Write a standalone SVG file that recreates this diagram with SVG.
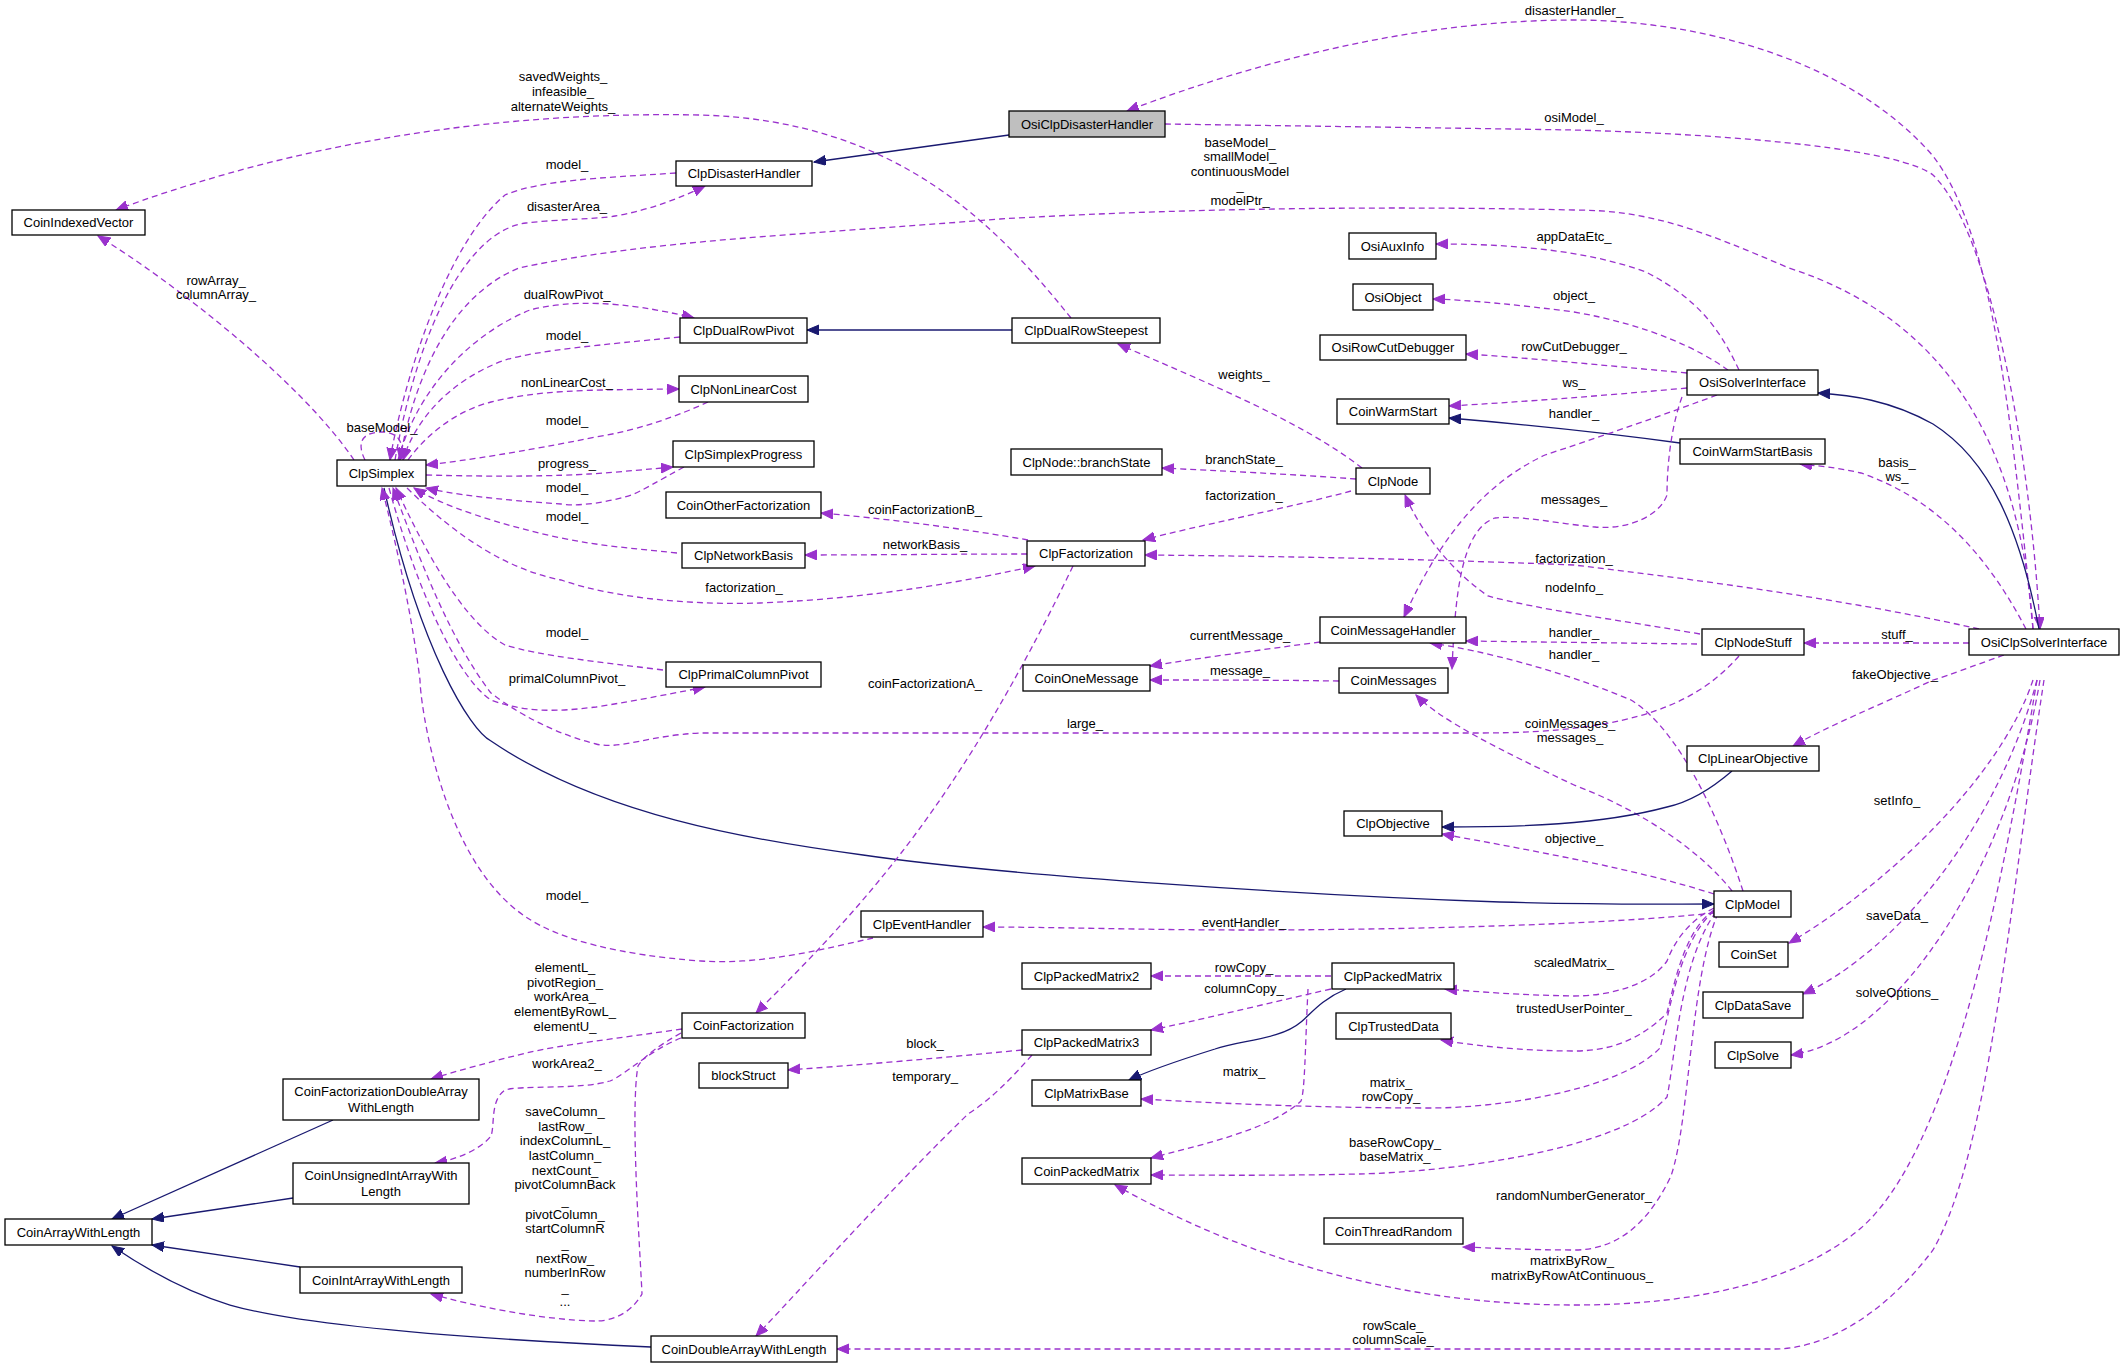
<svg xmlns="http://www.w3.org/2000/svg" width="2125" height="1368" viewBox="0 0 2125 1368">
<defs>
<style>
.n rect{fill:#fff;stroke:#000;stroke-width:1.3}
.n text,.l{font-family:"Liberation Sans",Arial,sans-serif;font-size:13px;fill:#000}
.n text{text-anchor:middle}
.l{text-anchor:middle}
.d{fill:none;stroke:#9a32cd;stroke-width:1.3;stroke-dasharray:6,4;marker-end:url(#pa)}
.i{fill:none;stroke:#191970;stroke-width:1.3;marker-end:url(#ia)}
</style>
<marker id="pa" markerUnits="userSpaceOnUse" markerWidth="14" markerHeight="12" refX="12" refY="5" orient="auto"><path d="M0,0L12,5L0,10z" fill="#9a32cd" stroke="#9a32cd"/></marker>
<marker id="ia" markerUnits="userSpaceOnUse" markerWidth="14" markerHeight="12" refX="12" refY="5" orient="auto"><path d="M0,0L12,5L0,10z" fill="#191970" stroke="#191970"/></marker>
</defs>
<rect width="2125" height="1368" fill="#fff"/>
<g id="edges">
<path class="i" d="M1009,135L814,162"/>
<path class="d" d="M2033,629C2010,400 1990,230 1933,156C1850,60 1700,20 1574,20C1420,20 1260,60 1127,111"/>
<path class="d" d="M1165,124C1300,126 1450,128 1574,130C1750,135 1900,150 1933,175C1990,230 2030,450 2040,629"/>
<path class="d" d="M1071,318C1000,230 900,120 700,115C450,110 250,160 116,210"/>
<path class="d" d="M676,173C600,178 540,180 505,195C440,250 400,400 390,460"/>
<path class="d" d="M395,460C420,320 470,230 526,223C560,219 600,219 615,216C650,210 680,198 705,186"/>
<path class="d" d="M2033,629C2020,450 1950,320 1789,268C1700,230 1650,210 1574,210C1350,205 1150,210 1000,219C800,235 650,240 519,268C440,300 410,400 400,460"/>
<path class="d" d="M398,460C420,380 480,330 530,310C570,300 620,300 694,318"/>
<path class="d" d="M680,337C600,345 540,350 505,360C450,380 415,420 403,460"/>
<path class="i" d="M1012,330L807,330"/>
<path class="d" d="M408,460C430,430 460,410 491,402C540,390 580,390 679,389"/>
<path class="d" d="M708,402C680,415 640,430 596,437C520,452 470,460 426,465"/>
<path class="d" d="M426,475C500,477 560,476 589,474C620,472 650,469 673,467"/>
<path class="d" d="M684,467C660,480 640,492 631,495C600,505 570,506 561,504C500,500 450,494 426,488"/>
<path class="d" d="M677,553C630,548 600,546 561,538C500,525 440,505 414,488"/>
<path class="d" d="M1028,540C960,528 880,518 821,513"/>
<path class="d" d="M1027,554C960,554 870,555 805,555"/>
<path class="d" d="M407,488C460,540 510,570 561,580C620,600 700,605 760,603C880,598 970,580 1035,566"/>
<path class="d" d="M663,670C600,662 540,656 505,645C460,620 420,540 396,488"/>
<path class="d" d="M389,488C420,600 460,680 491,700C530,715 570,710 596,707C640,700 680,692 705,687"/>
<path class="i" d="M384,488C420,650 470,730 491,741C600,815 750,840 863,855C1000,875 1300,895 1500,902C1600,905 1660,904 1714,904"/>
<path class="d" d="M873,938C820,950 760,965 701,961C620,955 560,940 526,917C440,860 420,700 420,680C410,600 390,520 382,488"/>
<path class="d" d="M1739,656C1700,700 1640,733 1480,733L1100,733C860,733 750,733 701,733C650,735 620,750 596,744C540,730 500,700 491,693C450,640 420,560 393,488"/>
<path class="d" d="M1739,370C1720,330 1700,300 1646,272C1580,248 1500,244 1436,244"/>
<path class="d" d="M1728,370C1700,350 1650,325 1574,312C1520,305 1470,300 1433,299"/>
<path class="d" d="M1687,373C1600,365 1530,358 1466,354"/>
<path class="d" d="M1687,388C1600,396 1520,402 1449,406"/>
<path class="i" d="M1680,443C1600,432 1520,424 1449,418"/>
<path class="d" d="M1717,395C1650,420 1590,440 1545,455C1470,490 1430,560 1404,617"/>
<path class="d" d="M1682,397C1670,430 1667,470 1667,495C1660,515 1630,530 1595,527C1560,524 1520,515 1495,518C1460,530 1455,600 1452,669"/>
<path class="i" d="M2039,629C2020,530 1990,460 1933,424C1890,400 1850,395 1818,393"/>
<path class="d" d="M2026,629C1990,560 1940,500 1861,473C1840,468 1820,466 1800,464"/>
<path class="d" d="M1362,468C1300,420 1200,380 1118,344"/>
<path class="d" d="M1356,479C1290,474 1220,471 1162,468"/>
<path class="d" d="M1351,491C1280,510 1200,525 1143,540"/>
<path class="d" d="M1979,629C1850,600 1700,580 1574,565C1400,558 1250,556 1145,555"/>
<path class="d" d="M1700,634C1620,620 1540,610 1488,596C1450,570 1420,530 1405,495"/>
<path class="d" d="M1697,644C1620,643 1540,642 1466,641"/>
<path class="d" d="M1969,643L1804,643"/>
<path class="d" d="M1320,642C1260,650 1200,658 1150,666"/>
<path class="d" d="M1339,681C1270,680 1210,680 1150,680"/>
<path class="d" d="M1743,891C1720,820 1680,730 1631,700C1560,670 1480,650 1430,643"/>
<path class="d" d="M1732,891C1700,850 1640,810 1574,785C1500,750 1440,720 1416,695"/>
<path class="d" d="M2004,655C1970,667 1950,675 1933,680C1880,705 1830,725 1793,746"/>
<path class="i" d="M1732,771C1710,790 1690,802 1667,807C1600,825 1520,827 1442,827"/>
<path class="d" d="M1714,894C1640,870 1530,850 1442,834"/>
<path class="d" d="M1714,913C1600,925 1400,930 1244,930C1150,930 1050,927 983,927"/>
<path class="d" d="M2033,680C2000,780 1880,890 1789,943"/>
<path class="d" d="M2037,680C2000,820 1900,950 1803,994"/>
<path class="d" d="M2040,680C2010,860 1900,1040 1791,1055"/>
<path class="d" d="M1331,976L1151,976"/>
<path class="d" d="M1331,989C1260,1005 1200,1020 1151,1030"/>
<path class="i" d="M1346,989C1320,1000 1310,1015 1301,1022C1280,1040 1240,1040 1215,1049C1180,1060 1150,1070 1129,1080"/>
<path class="d" d="M1308,989C1305,1050 1305,1090 1301,1101C1270,1130 1200,1145 1151,1158"/>
<path class="d" d="M1714,908C1690,920 1675,940 1667,961C1650,985 1610,996 1574,996C1520,995 1480,992 1445,989"/>
<path class="d" d="M1714,910C1685,930 1675,980 1667,1013C1640,1040 1610,1051 1574,1051C1520,1051 1470,1045 1441,1040"/>
<path class="d" d="M1714,911C1680,940 1670,1010 1660,1048C1620,1090 1500,1108 1430,1108C1300,1108 1200,1102 1141,1099"/>
<path class="d" d="M1716,912C1680,960 1675,1060 1667,1097C1620,1150 1450,1172 1359,1174C1270,1176 1200,1175 1151,1175"/>
<path class="d" d="M1718,913C1690,980 1690,1120 1671,1176C1650,1220 1620,1250 1574,1250C1530,1250 1490,1248 1463,1247"/>
<path class="d" d="M2037,680C2000,900 1950,1150 1861,1228C1800,1280 1700,1305 1574,1305C1400,1305 1250,1260 1115,1185"/>
<path class="d" d="M2044,680C2010,900 1990,1150 1933,1250C1880,1320 1820,1349 1775,1349L837,1349"/>
<path class="d" d="M681,1033C660,1045 645,1055 638,1066C630,1110 640,1250 642,1294C630,1315 610,1321 596,1321C540,1320 470,1305 431,1294"/>
<path class="d" d="M682,1029C620,1038 560,1045 526,1053C490,1062 460,1070 431,1079"/>
<path class="d" d="M681,1038C650,1050 625,1075 610,1081C580,1090 520,1085 505,1090C490,1100 495,1125 491,1136C480,1150 455,1160 435,1163"/>
<path class="d" d="M1073,566C960,800 870,900 756,1013"/>
<path class="d" d="M1022,1050C940,1058 860,1065 788,1070"/>
<path class="d" d="M1032,1055C1010,1080 990,1100 968,1114C880,1200 800,1290 756,1336"/>
<path class="i" d="M333,1120L112,1219"/>
<path class="i" d="M293,1198L152,1219"/>
<path class="i" d="M300,1267L152,1245"/>
<path class="i" d="M651,1347C450,1338 300,1325 230,1305C180,1290 140,1265 112,1246"/>
<path class="d" d="M354,460C300,380 170,280 98,236"/>
<path class="d" d="M365,460C355,440 365,432 382,432C400,432 405,445 400,460"/>
</g>
<g font-family="Liberation Sans,Arial,sans-serif">
<text class="l" x="1574" y="15">disasterHandler_</text>
<text class="l" x="1574" y="122">osiModel_</text>
<text class="l" x="563" y="81">savedWeights_</text>
<text class="l" x="563" y="96">infeasible_</text>
<text class="l" x="563" y="111">alternateWeights_</text>
<text class="l" x="1240" y="147">baseModel_</text>
<text class="l" x="1240" y="161">smallModel_</text>
<text class="l" x="1240" y="176">continuousModel</text>
<text class="l" x="1240" y="190">_</text>
<text class="l" x="1240" y="205">modelPtr_</text>
<text class="l" x="567" y="169">model_</text>
<text class="l" x="567" y="211">disasterArea_</text>
<text class="l" x="567" y="299">dualRowPivot_</text>
<text class="l" x="567" y="340">model_</text>
<text class="l" x="567" y="387">nonLinearCost_</text>
<text class="l" x="567" y="425">model_</text>
<text class="l" x="567" y="468">progress_</text>
<text class="l" x="567" y="492">model_</text>
<text class="l" x="567" y="521">model_</text>
<text class="l" x="925" y="514">coinFactorizationB_</text>
<text class="l" x="925" y="549">networkBasis_</text>
<text class="l" x="744" y="592">factorization_</text>
<text class="l" x="567" y="637">model_</text>
<text class="l" x="567" y="683">primalColumnPivot_</text>
<text class="l" x="925" y="688">coinFactorizationA_</text>
<text class="l" x="567" y="900">model_</text>
<text class="l" x="1085" y="728">large_</text>
<text class="l" x="216" y="285">rowArray_</text>
<text class="l" x="216" y="299">columnArray_</text>
<text class="l" x="382" y="432">baseModel_</text>
<text class="l" x="1574" y="241">appDataEtc_</text>
<text class="l" x="1574" y="300">object_</text>
<text class="l" x="1574" y="351">rowCutDebugger_</text>
<text class="l" x="1574" y="387">ws_</text>
<text class="l" x="1574" y="418">handler_</text>
<text class="l" x="1574" y="504">messages_</text>
<text class="l" x="1897" y="467">basis_</text>
<text class="l" x="1897" y="481">ws_</text>
<text class="l" x="1244" y="379">weights_</text>
<text class="l" x="1244" y="464">branchState_</text>
<text class="l" x="1244" y="500">factorization_</text>
<text class="l" x="1574" y="563">factorization_</text>
<text class="l" x="1574" y="592">nodeInfo_</text>
<text class="l" x="1574" y="637">handler_</text>
<text class="l" x="1574" y="659">handler_</text>
<text class="l" x="1897" y="639">stuff_</text>
<text class="l" x="1240" y="640">currentMessage_</text>
<text class="l" x="1240" y="675">message_</text>
<text class="l" x="1570" y="728">coinMessages_</text>
<text class="l" x="1570" y="742">messages_</text>
<text class="l" x="1895" y="679">fakeObjective_</text>
<text class="l" x="1574" y="843">objective_</text>
<text class="l" x="1244" y="927">eventHandler_</text>
<text class="l" x="1897" y="805">setInfo_</text>
<text class="l" x="1897" y="920">saveData_</text>
<text class="l" x="1897" y="997">solveOptions_</text>
<text class="l" x="1244" y="972">rowCopy_</text>
<text class="l" x="1244" y="993">columnCopy_</text>
<text class="l" x="1244" y="1076">matrix_</text>
<text class="l" x="1574" y="967">scaledMatrix_</text>
<text class="l" x="1574" y="1013">trustedUserPointer_</text>
<text class="l" x="1391" y="1087">matrix_</text>
<text class="l" x="1391" y="1101">rowCopy_</text>
<text class="l" x="1395" y="1147">baseRowCopy_</text>
<text class="l" x="1395" y="1161">baseMatrix_</text>
<text class="l" x="1574" y="1200">randomNumberGenerator_</text>
<text class="l" x="1572" y="1265">matrixByRow_</text>
<text class="l" x="1572" y="1280">matrixByRowAtContinuous_</text>
<text class="l" x="1393" y="1330">rowScale_</text>
<text class="l" x="1393" y="1344">columnScale_</text>
<text class="l" x="925" y="1048">block_</text>
<text class="l" x="925" y="1081">temporary_</text>
<text class="l" x="565" y="972">elementL_</text>
<text class="l" x="565" y="987">pivotRegion_</text>
<text class="l" x="565" y="1001">workArea_</text>
<text class="l" x="565" y="1016">elementByRowL_</text>
<text class="l" x="565" y="1031">elementU_</text>
<text class="l" x="567" y="1068">workArea2_</text>
<text class="l" x="565" y="1116">saveColumn_</text>
<text class="l" x="565" y="1131">lastRow_</text>
<text class="l" x="565" y="1145">indexColumnL_</text>
<text class="l" x="565" y="1160">lastColumn_</text>
<text class="l" x="565" y="1175">nextCount_</text>
<text class="l" x="565" y="1189">pivotColumnBack</text>
<text class="l" x="565" y="1205">_</text>
<text class="l" x="565" y="1219">pivotColumn_</text>
<text class="l" x="565" y="1233">startColumnR</text>
<text class="l" x="565" y="1248">_</text>
<text class="l" x="565" y="1263">nextRow_</text>
<text class="l" x="565" y="1277">numberInRow</text>
<text class="l" x="565" y="1292">_</text>
<text class="l" x="565" y="1306">...</text>
</g>
<g id="OsiClpDisasterHandler" class="n"><rect x="1009" y="111" width="156" height="26" style="fill:#bfbfbf"/><text x="1087" y="128.5">OsiClpDisasterHandler</text></g>
<g id="ClpDisasterHandler" class="n"><rect x="676" y="161" width="136" height="25"/><text x="744" y="178">ClpDisasterHandler</text></g>
<g id="CoinIndexedVector" class="n"><rect x="12" y="210" width="133" height="25"/><text x="78.5" y="227">CoinIndexedVector</text></g>
<g id="ClpSimplex" class="n"><rect x="337" y="460" width="89" height="26"/><text x="381.5" y="477.5">ClpSimplex</text></g>
<g id="ClpDualRowPivot" class="n"><rect x="680" y="318" width="127" height="25"/><text x="743.5" y="335">ClpDualRowPivot</text></g>
<g id="ClpNonLinearCost" class="n"><rect x="679" y="376" width="129" height="26"/><text x="743.5" y="393.5">ClpNonLinearCost</text></g>
<g id="ClpSimplexProgress" class="n"><rect x="673" y="441" width="141" height="26"/><text x="743.5" y="458.5">ClpSimplexProgress</text></g>
<g id="CoinOtherFactorization" class="n"><rect x="666" y="492" width="155" height="26"/><text x="743.5" y="509.5">CoinOtherFactorization</text></g>
<g id="ClpNetworkBasis" class="n"><rect x="682" y="543" width="123" height="25"/><text x="743.5" y="560">ClpNetworkBasis</text></g>
<g id="ClpPrimalColumnPivot" class="n"><rect x="666" y="662" width="155" height="25"/><text x="743.5" y="679">ClpPrimalColumnPivot</text></g>
<g id="ClpDualRowSteepest" class="n"><rect x="1012" y="318" width="148" height="25"/><text x="1086" y="335">ClpDualRowSteepest</text></g>
<g id="OsiAuxInfo" class="n"><rect x="1349" y="233" width="87" height="26"/><text x="1392.5" y="250.5">OsiAuxInfo</text></g>
<g id="OsiObject" class="n"><rect x="1353" y="284" width="80" height="26"/><text x="1393" y="301.5">OsiObject</text></g>
<g id="OsiRowCutDebugger" class="n"><rect x="1320" y="335" width="146" height="25"/><text x="1393" y="352">OsiRowCutDebugger</text></g>
<g id="CoinWarmStart" class="n"><rect x="1337" y="399" width="112" height="25"/><text x="1393" y="416">CoinWarmStart</text></g>
<g id="OsiSolverInterface" class="n"><rect x="1687" y="370" width="131" height="25"/><text x="1752.5" y="387">OsiSolverInterface</text></g>
<g id="CoinWarmStartBasis" class="n"><rect x="1680" y="439" width="145" height="25"/><text x="1752.5" y="456">CoinWarmStartBasis</text></g>
<g id="ClpNode_branchState" class="n"><rect x="1011" y="449" width="151" height="26"/><text x="1086.5" y="466.5">ClpNode::branchState</text></g>
<g id="ClpNode" class="n"><rect x="1356" y="468" width="74" height="26"/><text x="1393" y="485.5">ClpNode</text></g>
<g id="ClpFactorization" class="n"><rect x="1027" y="541" width="118" height="25"/><text x="1086" y="558">ClpFactorization</text></g>
<g id="CoinMessageHandler" class="n"><rect x="1320" y="617" width="146" height="26"/><text x="1393" y="634.5">CoinMessageHandler</text></g>
<g id="ClpNodeStuff" class="n"><rect x="1702" y="629" width="102" height="26"/><text x="1753" y="646.5">ClpNodeStuff</text></g>
<g id="OsiClpSolverInterface" class="n"><rect x="1969" y="629" width="150" height="26"/><text x="2044" y="646.5">OsiClpSolverInterface</text></g>
<g id="CoinOneMessage" class="n"><rect x="1023" y="665" width="127" height="26"/><text x="1086.5" y="682.5">CoinOneMessage</text></g>
<g id="CoinMessages" class="n"><rect x="1339" y="668" width="109" height="25"/><text x="1393.5" y="685">CoinMessages</text></g>
<g id="ClpEventHandler" class="n"><rect x="861" y="911" width="122" height="26"/><text x="922" y="928.5">ClpEventHandler</text></g>
<g id="CoinFactorization" class="n"><rect x="682" y="1013" width="123" height="25"/><text x="743.5" y="1030">CoinFactorization</text></g>
<g id="CoinFactorizationDoubleArrayWithLength" class="n"><rect x="283" y="1079" width="196" height="41"/><text x="381" y="1096">CoinFactorizationDoubleArray</text><text x="381" y="1112">WithLength</text></g>
<g id="CoinUnsignedIntArrayWithLength" class="n"><rect x="293" y="1163" width="176" height="41"/><text x="381" y="1180">CoinUnsignedIntArrayWith</text><text x="381" y="1196">Length</text></g>
<g id="CoinArrayWithLength" class="n"><rect x="5" y="1219" width="147" height="26"/><text x="78.5" y="1236.5">CoinArrayWithLength</text></g>
<g id="CoinIntArrayWithLength" class="n"><rect x="300" y="1267" width="162" height="26"/><text x="381" y="1284.5">CoinIntArrayWithLength</text></g>
<g id="CoinDoubleArrayWithLength" class="n"><rect x="651" y="1336" width="186" height="26"/><text x="744" y="1353.5">CoinDoubleArrayWithLength</text></g>
<g id="blockStruct" class="n"><rect x="699" y="1063" width="89" height="25"/><text x="743.5" y="1080">blockStruct</text></g>
<g id="ClpLinearObjective" class="n"><rect x="1687" y="746" width="132" height="25"/><text x="1753" y="763">ClpLinearObjective</text></g>
<g id="ClpObjective" class="n"><rect x="1344" y="811" width="98" height="25"/><text x="1393" y="828">ClpObjective</text></g>
<g id="ClpModel" class="n"><rect x="1714" y="891" width="77" height="26"/><text x="1752.5" y="908.5">ClpModel</text></g>
<g id="CoinSet" class="n"><rect x="1719" y="942" width="69" height="25"/><text x="1753.5" y="959">CoinSet</text></g>
<g id="ClpPackedMatrix2" class="n"><rect x="1022" y="963" width="129" height="26"/><text x="1086.5" y="980.5">ClpPackedMatrix2</text></g>
<g id="ClpPackedMatrix" class="n"><rect x="1332" y="963" width="122" height="26"/><text x="1393" y="980.5">ClpPackedMatrix</text></g>
<g id="ClpDataSave" class="n"><rect x="1703" y="992" width="100" height="26"/><text x="1753" y="1009.5">ClpDataSave</text></g>
<g id="ClpTrustedData" class="n"><rect x="1336" y="1013" width="115" height="26"/><text x="1393.5" y="1030.5">ClpTrustedData</text></g>
<g id="ClpPackedMatrix3" class="n"><rect x="1022" y="1030" width="129" height="25"/><text x="1086.5" y="1047">ClpPackedMatrix3</text></g>
<g id="ClpSolve" class="n"><rect x="1715" y="1042" width="76" height="26"/><text x="1753" y="1059.5">ClpSolve</text></g>
<g id="ClpMatrixBase" class="n"><rect x="1032" y="1080" width="109" height="26"/><text x="1086.5" y="1097.5">ClpMatrixBase</text></g>
<g id="CoinPackedMatrix" class="n"><rect x="1022" y="1158" width="129" height="26"/><text x="1086.5" y="1175.5">CoinPackedMatrix</text></g>
<g id="CoinThreadRandom" class="n"><rect x="1324" y="1218" width="139" height="26"/><text x="1393.5" y="1235.5">CoinThreadRandom</text></g>
</svg>
